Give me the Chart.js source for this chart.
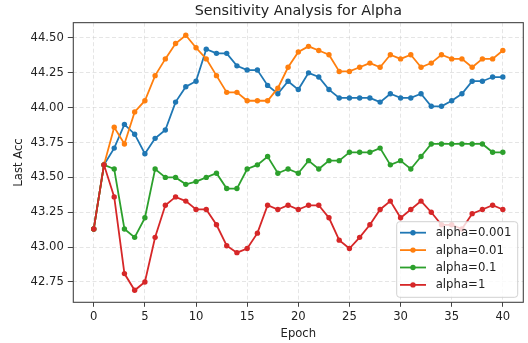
<!DOCTYPE html>
<html><head><meta charset="utf-8">
<script src="https://cdn.jsdelivr.net/npm/chart.js@4.4.1/dist/chart.umd.min.js"></script>
<style>html,body{margin:0;padding:0;background:#fff;}#wrap{width:528px;height:343px;}</style>
</head><body><div id="wrap"><canvas id="c" width="528" height="343"></canvas></div>
<script>
const epochs = [0,1,2,3,4,5,6,7,8,9,10,11,12,13,14,15,16,17,18,19,20,21,22,23,24,25,26,27,28,29,30,31,32,33,34,35,36,37,38,39,40];
const alpha0001 = [43.13,43.59,43.71,43.88,43.81,43.67,43.78,43.84,44.04,44.15,44.19,44.42,44.39,44.39,44.30,44.27,44.27,44.16,44.10,44.19,44.13,44.25,44.22,44.13,44.07,44.07,44.07,44.07,44.04,44.10,44.07,44.07,44.10,44.01,44.01,44.05,44.10,44.19,44.19,44.22,44.22];
const alpha001 = [43.13,43.59,43.86,43.74,43.97,44.05,44.23,44.35,44.46,44.52,44.43,44.35,44.23,44.11,44.11,44.05,44.05,44.05,44.14,44.29,44.40,44.44,44.41,44.38,44.26,44.26,44.29,44.32,44.29,44.38,44.35,44.38,44.29,44.32,44.38,44.35,44.35,44.29,44.35,44.35,44.41];
const alpha01 = [43.13,43.59,43.56,43.13,43.07,43.21,43.56,43.50,43.50,43.45,43.47,43.50,43.53,43.42,43.42,43.56,43.59,43.65,43.53,43.56,43.53,43.62,43.56,43.62,43.62,43.68,43.68,43.68,43.71,43.59,43.62,43.56,43.65,43.74,43.74,43.74,43.74,43.74,43.74,43.68,43.68];
const alpha1 = [43.13,43.59,43.36,42.81,42.69,42.75,43.07,43.30,43.36,43.33,43.27,43.27,43.16,43.01,42.96,42.99,43.10,43.30,43.27,43.30,43.27,43.30,43.30,43.21,43.05,42.99,43.07,43.16,43.27,43.33,43.21,43.27,43.33,43.25,43.16,43.16,43.13,43.24,43.27,43.30,43.27];
const seriesLabels = ['alpha=0.001','alpha=0.01','alpha=0.1','alpha=1'];
const xTicks = [0,5,10,15,20,25,30,35,40];
const yTicks = [42.75,43.00,43.25,43.50,43.75,44.00,44.25,44.50];
const titleText = 'Sensitivity Analysis for Alpha';
const xLabel = 'Epoch';
const yLabel = 'Last Acc';

const FONT = 'DejaVu Sans';
const colors = ['#1f77b4','#ff7f0e','#2ca02c','#d62728'];
const seriesValues = [alpha0001, alpha001, alpha01, alpha1];

const datasets = seriesValues.map((vals, i) => ({
  label: seriesLabels[i],
  data: epochs.map((e, j) => ({x: e, y: vals[j]})),
  borderColor: colors[i],
  backgroundColor: colors[i],
  pointBackgroundColor: colors[i],
  pointBorderColor: colors[i],
  pointBorderWidth: 0,
  pointRadius: 2.7,
  borderWidth: 1.8,
  tension: 0,
  fill: false,
  order: 3 - i
}));

const framePlugin = {
  id: 'frame',
  afterDatasetsDraw(chart) {
    const {ctx, chartArea: a} = chart;
    ctx.save();
    ctx.strokeStyle = '#444';
    ctx.lineWidth = 1.1;
    ctx.strokeRect(a.left, a.top, a.right - a.left, a.bottom - a.top);
    ctx.restore();
  }
};

const legendPlugin = {
  id: 'mplLegend',
  afterDraw(chart) {
    const {ctx, chartArea: a} = chart;
    const w = 121, h = 75.6;
    const x0 = a.right - 5.6 - w, y0 = a.bottom - 5 - h;
    ctx.save();
    ctx.beginPath();
    ctx.roundRect(x0, y0, w, h, 3);
    ctx.fillStyle = 'rgba(255,255,255,0.8)';
    ctx.fill();
    ctx.strokeStyle = 'rgba(204,204,204,0.9)';
    ctx.lineWidth = 1;
    ctx.stroke();
    chart.data.datasets.forEach((ds, i) => {
      const cy = y0 + 11 + i * 17.4;
      ctx.strokeStyle = ds.borderColor;
      ctx.lineWidth = 1.8;
      ctx.beginPath();
      ctx.moveTo(x0 + 3.3, cy);
      ctx.lineTo(x0 + 29.3, cy);
      ctx.stroke();
      ctx.fillStyle = ds.borderColor;
      ctx.beginPath();
      ctx.arc(x0 + 16.3, cy, 2.7, 0, Math.PI * 2);
      ctx.fill();
      ctx.fillStyle = '#222';
      ctx.font = '11.7px "' + FONT + '"';
      ctx.textBaseline = 'middle';
      ctx.textAlign = 'left';
      ctx.fillText(ds.label, x0 + 39, cy + 0.5);
    });
    ctx.restore();
  }
};

new Chart(document.getElementById('c'), {
  type: 'line',
  data: {datasets},
  plugins: [framePlugin, legendPlugin],
  options: {
    responsive: false,
    animation: false,
    events: [],
    layout: {padding: {left: 0, right: 4.7, top: 0, bottom: 0}},
    plugins: {
      legend: {display: false},
      tooltip: {enabled: false},
      title: {
        display: true,
        text: titleText,
        fullSize: false,
        color: '#222',
        font: {family: FONT, size: 14.3, weight: 'normal'},
        padding: {top: 2.4, bottom: 3.1}
      }
    },
    scales: {
      x: {
        type: 'linear',
        min: -2,
        max: 42,
        afterFit(scale) { scale.height = 40.7; },
        afterBuildTicks(scale) { scale.ticks = xTicks.map(v => ({value: v})); },
        ticks: {color: '#222', font: {family: FONT, size: 11.6}, padding: 3, maxRotation: 0, autoSkip: false, callback: v => String(v)},
        grid: {color: 'rgba(200,200,200,0.6)', lineWidth: 0.8, drawTicks: true, tickLength: 4.5, tickColor: '#444', tickWidth: 1, tickBorderDash: []},
        border: {display: false, dash: [4, 2.5]},
        title: {display: true, text: xLabel, color: '#222', font: {family: FONT, size: 11.6}, padding: {top: 0, bottom: 1.7}}
      },
      y: {
        type: 'linear',
        min: 42.604,
        max: 44.61,
        afterFit(scale) { scale.width = 73.3; },
        afterBuildTicks(scale) { scale.ticks = yTicks.map(v => ({value: v})); },
        ticks: {color: '#222', font: {family: FONT, size: 11.6}, padding: 4, autoSkip: false, callback: v => Number(v).toFixed(2)},
        grid: {color: 'rgba(200,200,200,0.6)', lineWidth: 0.8, drawTicks: true, tickLength: 5.5, tickColor: '#444', tickWidth: 1, tickBorderDash: []},
        border: {display: false, dash: [4, 2.5]},
        title: {display: true, text: yLabel, color: '#222', font: {family: FONT, size: 11.6}, padding: {top: 12.4, bottom: 0}}
      }
    }
  }
});
</script>
</body></html>
